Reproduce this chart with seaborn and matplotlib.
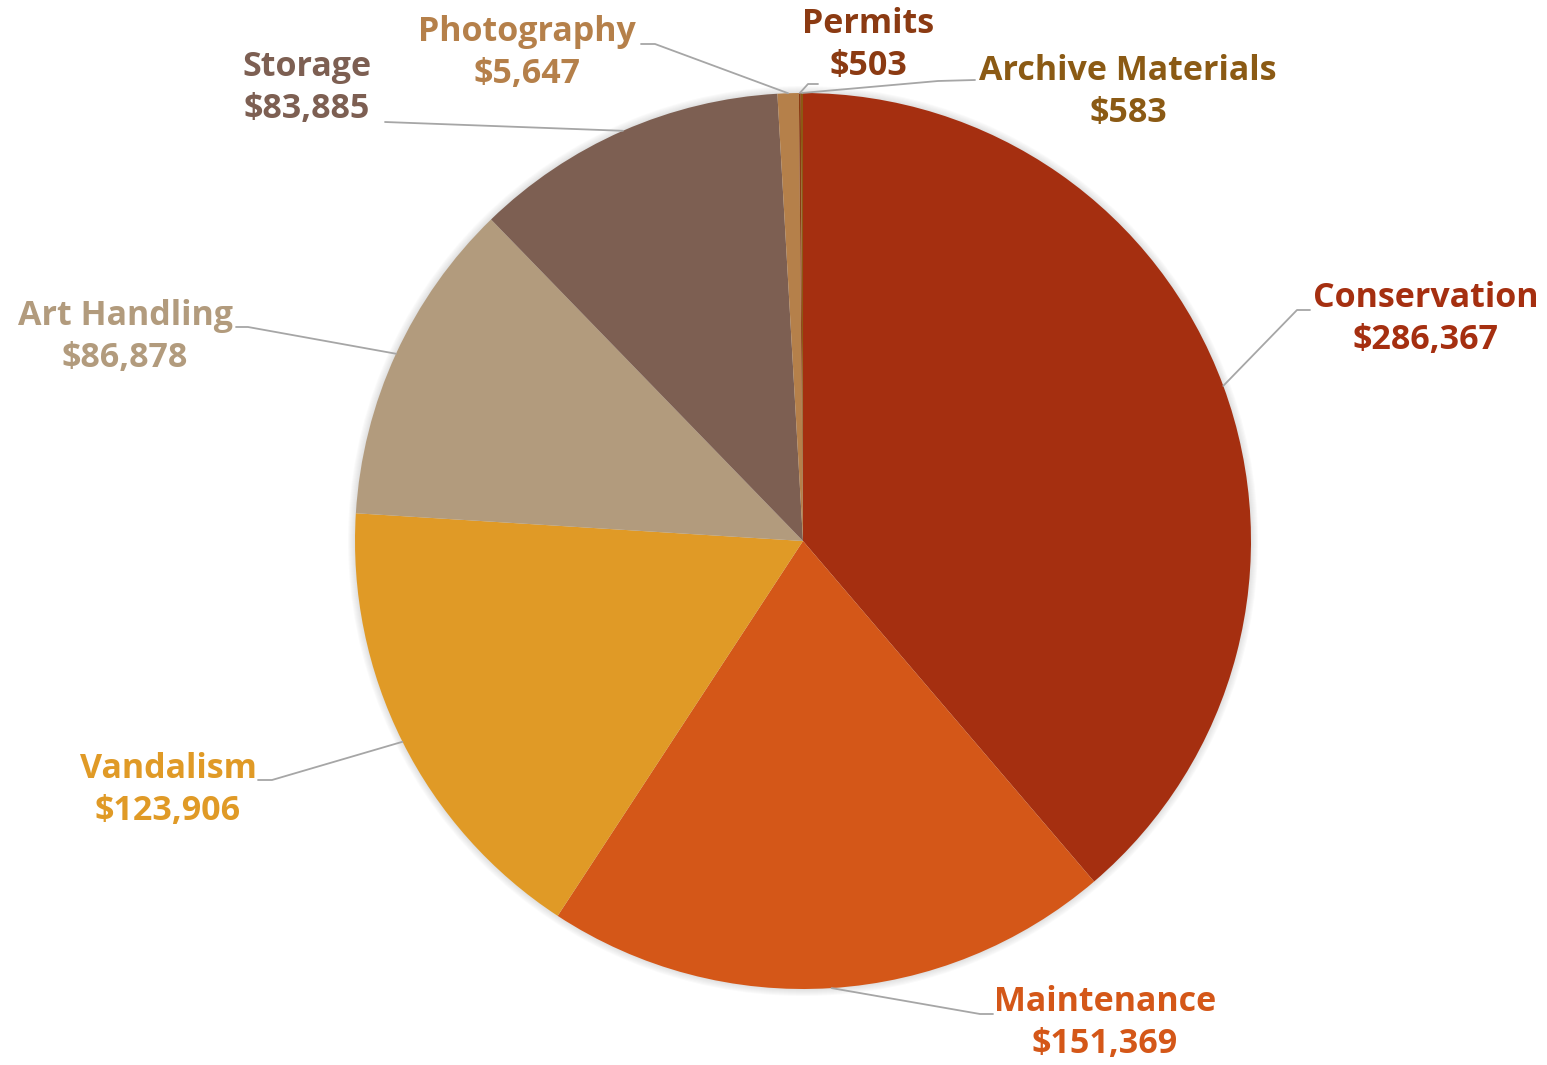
import numpy as np
import matplotlib.pyplot as plt
import seaborn as sns
from matplotlib.patches import Circle

# data
categories = ['Conservation', 'Maintenance', 'Vandalism', 'Art Handling',
              'Storage', 'Photography', 'Permits', 'Archive Materials']
costs = [286367, 151369, 123906, 86878, 83885, 5647, 503, 583]
colors = ['#A52F10', '#D45718', '#E09A26', '#B29B7D',
          '#7D5F52', '#B5804A', '#8B3A12', '#8B5A14']

# label layout in image pixels: text centre (x, y of first line), elbow, line end
label_pos = [(1426, 298), (1105, 1002), (168, 769), (125, 316),
             (307, 67), (527, 32), (868, 24), (1128, 71)]
elbows = [(1297, 310), (980, 1014), (272, 780), (248, 327),
          (385, 122), (655, 44), (808, 84), (938, 81)]
line_ends = [(1310, 310), (993, 1014), (258, 780), (236, 327),
             (385, 122), (641, 44), (818, 84), (975, 80)]

W, H = 1547, 1065
cx, cy, R = 803, 541, 448

sns.set_theme(style='white')
plt.rcParams['font.family'] = ['Open Sans', 'DejaVu Sans']

fig = plt.figure(figsize=(W / 100, H / 100), dpi=100)
ax = fig.add_axes([0, 0, 1, 1])

# soft shadow round the pie
for k in range(1, 8):
    ax.add_patch(Circle((cx, H - cy), R + k, color='#888888', alpha=0.035, lw=0, zorder=0))

wedges, _ = ax.pie(costs, colors=colors, startangle=90, counterclock=False,
                   center=(cx, H - cy), radius=R,
                   wedgeprops=dict(linewidth=0))
for w in wedges:
    w.set_zorder(2)

ax.set_xlim(0, W)
ax.set_ylim(0, H)
ax.set_aspect('equal')
ax.axis('off')

total = sum(costs)
cum = np.cumsum([0] + costs[:-1])
for i, cat in enumerate(categories):
    mid = 90 - (cum[i] + costs[i] / 2) / total * 360
    ex = cx + R * np.cos(np.radians(mid))
    ey = H - cy + R * np.sin(np.radians(mid))
    ax.plot([ex, elbows[i][0], line_ends[i][0]],
            [ey, H - elbows[i][1], H - line_ends[i][1]],
            color='#A6A6A6', lw=1.3, zorder=3)
    tx, ty = label_pos[i]
    ax.text(tx, H - ty, cat, ha='center', va='center', color=colors[i],
            fontsize=24.5, fontweight='bold', zorder=4)
    ax.text(tx, H - ty - 42, f'${costs[i]:,}', ha='center', va='center',
            color=colors[i], fontsize=24.5, fontweight='bold', zorder=4)

fig.savefig('out.png', dpi=100, facecolor='white')
